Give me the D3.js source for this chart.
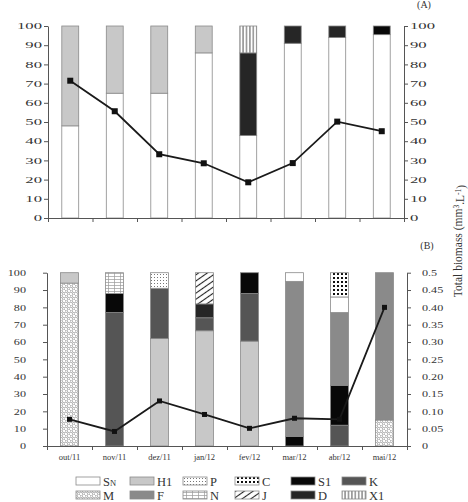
<!DOCTYPE html>
<html>
<head>
<meta charset="utf-8">
<script src="https://cdn.jsdelivr.net/npm/d3@7/dist/d3.min.js"></script>
<style>
body { margin: 0; background: #fff; }
text { font-family: "Liberation Serif", "Times New Roman", serif; fill: #333; }
</style>
</head>
<body>
<svg id="chart" width="468" height="502"></svg>
<script>
const months = ["out/11", "nov/11", "dez/11", "jan/12", "fev/12", "mar/12", "abr/12", "mai/12"];

// (A) relative biomass, % (stack order bottom -> top)
const keysA = ["SN", "H1", "D", "S1", "X1"];
const A_SN = [48, 65, 65, 86, 43, 91, 94, 95.5];
const A_H1 = [52, 35, 35, 14, 0, 0, 0, 0];
const A_D  = [0, 0, 0, 0, 43, 9, 6, 0];
const A_S1 = [0, 0, 0, 0, 0, 0, 0, 4.5];
const A_X1 = [0, 0, 0, 0, 14, 0, 0, 0];
const totalA = [71.5, 55.6, 33.2, 28.5, 18.6, 28.6, 50.2, 45.2];

// (B) relative biomass, %
const keysB = ["M", "H1", "K", "S1", "D", "F", "SN", "P", "N", "J", "C"];
const B_M  = [94, 0, 0, 0, 0, 0, 0, 15];
const B_H1 = [6, 0, 62, 66.5, 60.5, 0, 0, 0];
const B_K  = [0, 77, 29, 7.5, 27.5, 0, 12, 0];
const B_S1 = [0, 11, 0, 0, 12, 5.5, 23, 0];
const B_D  = [0, 0, 0, 8, 0, 0, 0, 0];
const B_F  = [0, 0, 0, 0, 0, 89.5, 42, 85];
const B_SN = [0, 0, 0, 0, 0, 5, 9, 0];
const B_P  = [0, 0, 9, 0, 0, 0, 0, 0];
const B_N  = [0, 12, 0, 0, 0, 0, 0, 0];
const B_J  = [0, 0, 0, 18, 0, 0, 0, 0];
const B_C  = [0, 0, 0, 0, 0, 0, 14, 0];
const totalB = [0.077, 0.042, 0.13, 0.091, 0.051, 0.08, 0.077, 0.40];

const pctTicks = d3.range(0, 101, 10);
const biomassTicksB = d3.range(0, 0.501, 0.05);

const legendRows = [
    ["SN", "H1", "P", "C", "S1", "K"],
    ["M", "F", "N", "J", "D", "X1"]
];

const fills = {
    SN: "#ffffff", H1: "#c8c8c8", P: "url(#pat-P)", C: "url(#pat-C)",
    S1: "#080808", K: "#555555", M: "url(#pat-M)", F: "#8a8a8a",
    N: "url(#pat-N)", J: "url(#pat-J)", D: "#262626", X1: "url(#pat-X1)"
};

const svg = d3.select("#chart");

// ---- patterns
const defs = svg.append("defs");
function pattern(id, w, h, extra) {
    let p = defs.append("pattern")
        .attr("id", id)
        .attr("patternUnits", "userSpaceOnUse")
        .attr("width", w)
        .attr("height", h);
    if (extra) p.attr("patternTransform", extra);
    p.append("rect").attr("width", w).attr("height", h).attr("fill", "#fff");
    return p;
}
pattern("pat-P", 3, 3).append("rect")
    .attr("x", 1).attr("y", 1).attr("width", 1).attr("height", 1).attr("fill", "#777");
pattern("pat-C", 4, 4).append("rect")
    .attr("x", 1).attr("y", 1).attr("width", 2).attr("height", 2).attr("fill", "#111");
let pm = pattern("pat-M", 5, 5);
pm.append("circle").attr("cx", 1.25).attr("cy", 1.25).attr("r", 1.3).attr("fill", "none").attr("stroke", "#888").attr("stroke-width", 0.7);
pm.append("circle").attr("cx", 3.75).attr("cy", 3.75).attr("r", 1.3).attr("fill", "none").attr("stroke", "#888").attr("stroke-width", 0.7);
let pn = pattern("pat-N", 6, 3);
pn.append("line").attr("x1", 0).attr("x2", 6).attr("y1", 0.5).attr("y2", 0.5).attr("stroke", "#999").attr("stroke-width", 0.7);
pn.append("line").attr("x1", 0.5).attr("x2", 0.5).attr("y1", 0).attr("y2", 3).attr("stroke", "#999").attr("stroke-width", 0.7);
pattern("pat-J", 5, 5, "rotate(-35)").append("line")
    .attr("x1", 0).attr("x2", 5).attr("y1", 2.5).attr("y2", 2.5).attr("stroke", "#222").attr("stroke-width", 1.1);
pattern("pat-X1", 3.4, 4).append("line")
    .attr("x1", 1.7).attr("x2", 1.7).attr("y1", 0).attr("y2", 4).attr("stroke", "#444").attr("stroke-width", 0.9);

// stretch tick text (the source figure has squashed fonts)
function stretch(sel, sx, sy) {
    sel.each(function () {
        let t = d3.select(this);
        let x = +t.attr("x") || 0;
        let y = +t.attr("y") || 0;
        t.attr("x", 0).attr("y", 0)
         .attr("transform", `translate(${x},${y}) scale(${sx},${sy})`);
    });
}

function styleAxis(g) {
    g.select(".domain").attr("stroke", "#555");
    g.selectAll(".tick line").attr("stroke", "#555");
}

function drawPanel(cfg) {
    let x = d3.scaleBand().domain(months).range([cfg.left, cfg.right])
        .paddingInner(cfg.pad).paddingOuter(cfg.pad / 2);
    let xi = d3.scaleLinear().domain([0, months.length]).range([cfg.left, cfg.right]);
    let y = d3.scaleLinear().domain([0, 100]).range([cfg.bottom, cfg.top]);
    let y2 = d3.scaleLinear().domain(cfg.rightDomain).range([cfg.bottom, cfg.top]);

    let rows = months.map((m, i) => {
        let r = { month: m };
        cfg.keys.forEach(k => r[k] = cfg.series[k][i]);
        return r;
    });
    let stacked = d3.stack().keys(cfg.keys)(rows);

    svg.append("g")
        .selectAll("g")
        .data(stacked)
        .enter()
        .append("g")
            .attr("fill", d => fills[d.key])
        .selectAll("rect")
        .data(d => d.filter(s => s[1] - s[0] > 0))
        .enter()
        .append("rect")
            .attr("x", d => x(d.data.month))
            .attr("width", x.bandwidth())
            .attr("y", d => y(d[1]))
            .attr("height", d => y(d[0]) - y(d[1]))
            .attr("stroke", "#8a8a8a")
            .attr("stroke-width", 0.8);

    // axes
    let gx = svg.append("g")
        .attr("transform", `translate(0,${cfg.bottom})`)
        .call(d3.axisBottom(xi).tickValues(d3.range(months.length + 1)).tickFormat("").tickSize(4).tickSizeOuter(0));
    styleAxis(gx);

    let gl = svg.append("g")
        .attr("transform", `translate(${cfg.left},0)`)
        .call(d3.axisLeft(y).tickValues(pctTicks).tickSize(4).tickSizeOuter(0).tickPadding(cfg.leftPad));
    styleAxis(gl);
    gl.selectAll("text").style("font-size", "9px").style("fill", "#333");
    stretch(gl.selectAll("text"), cfg.sx, cfg.sy);

    let gr = svg.append("g")
        .attr("transform", `translate(${cfg.right},0)`)
        .call(d3.axisRight(y2).tickValues(cfg.rightTicks).tickFormat(cfg.rightFormat).tickSize(4).tickSizeOuter(0).tickPadding(cfg.rightPad));
    styleAxis(gr);
    gr.selectAll("text").style("font-size", "9px").style("fill", "#333");
    stretch(gr.selectAll("text"), cfg.sx, cfg.sy);

    if (cfg.showMonths) {
        let gm = svg.append("g")
            .attr("transform", `translate(0,${cfg.bottom})`)
            .call(d3.axisBottom(x).tickSize(0).tickPadding(8));
        gm.select(".domain").remove();
        gm.selectAll("text").style("font-size", "8.5px").style("fill", "#333");
    }

    // total biomass line
    let line = d3.line()
        .x((d, i) => x(months[i]) + x.bandwidth() / 2)
        .y(d => y2(d));
    svg.append("path")
        .datum(cfg.total)
        .attr("d", line)
        .attr("fill", "none")
        .attr("stroke", "#1a1a1a")
        .attr("stroke-width", 1.8);
    svg.append("g")
        .selectAll("rect")
        .data(cfg.total)
        .enter()
        .append("rect")
            .attr("x", (d, i) => x(months[i]) + x.bandwidth() / 2 - cfg.marker / 2)
            .attr("y", d => y2(d) - cfg.marker / 2)
            .attr("width", cfg.marker)
            .attr("height", cfg.marker)
            .attr("fill", "#111");

    svg.append("text")
        .attr("x", cfg.right + 20)
        .attr("y", cfg.labelY)
        .attr("text-anchor", "middle")
        .style("font-size", "10px")
        .text(cfg.label);
}

drawPanel({
    left: 48, right: 404, top: 26, bottom: 218, pad: 0.62,
    keys: keysA,
    series: { SN: A_SN, H1: A_H1, D: A_D, S1: A_S1, X1: A_X1 },
    total: totalA,
    rightDomain: [0, 100], rightTicks: pctTicks, rightFormat: d3.format("d"),
    leftPad: 2, rightPad: 2, sx: 1.85, sy: 0.95,
    marker: 6, showMonths: false,
    label: "(A)", labelY: 8
});

drawPanel({
    left: 47, right: 407, top: 272.7, bottom: 446, pad: 0.6,
    keys: keysB,
    series: { M: B_M, H1: B_H1, K: B_K, S1: B_S1, D: B_D, F: B_F, SN: B_SN, P: B_P, N: B_N, J: B_J, C: B_C },
    total: totalB,
    rightDomain: [0, 0.5], rightTicks: biomassTicksB,
    rightFormat: d => d === 0 ? "0" : (Math.abs(d - 0.5) < 1e-9 ? "0.5" : d3.format(".2f")(d)),
    leftPad: 17, rightPad: 11, sx: 1.35, sy: 0.95,
    marker: 5, showMonths: true,
    label: "(B)", labelY: 249
});

// shared right-axis title
let title = svg.append("text")
    .attr("transform", "translate(462,241) rotate(-90)")
    .attr("text-anchor", "middle")
    .style("font-size", "11.5px");
title.append("tspan").text("Total biomass (mm");
title.append("tspan").attr("dy", "-0.4em").style("font-size", "7.5px").text("3");
title.append("tspan").attr("dy", "0.4em").text(".L");
title.append("tspan").attr("dy", "-0.4em").style("font-size", "7.5px").text("-1");
title.append("tspan").attr("dy", "0.4em").text(")");

// legend
const legendX = [76, 130, 183, 235, 291, 342];
const legendY = [477, 491];
let legend = svg.append("g");
legendRows.forEach((row, r) => {
    row.forEach((k, c) => {
        legend.append("rect")
            .attr("x", legendX[c])
            .attr("y", legendY[r])
            .attr("width", 24)
            .attr("height", 8)
            .attr("fill", fills[k])
            .attr("stroke", "#8a8a8a")
            .attr("stroke-width", 0.8);
        let t = legend.append("text")
            .attr("x", legendX[c] + 27)
            .attr("y", legendY[r] + 8.5)
            .style("font-size", "12.5px");
        if (k === "SN") {
            t.append("tspan").text("S");
            t.append("tspan").style("font-size", "8.5px").text("N");
        } else {
            t.text(k);
        }
    });
});
</script>
</body>
</html>
